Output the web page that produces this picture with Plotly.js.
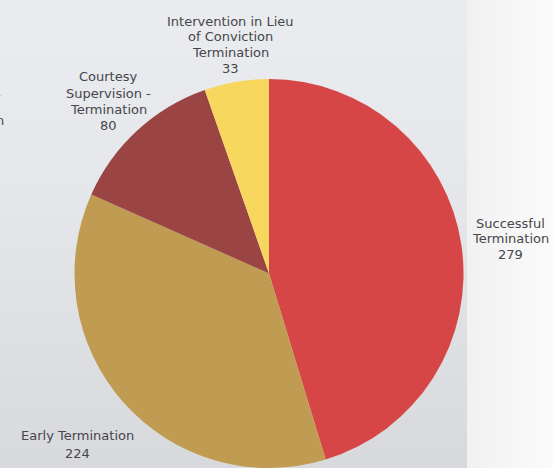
<!DOCTYPE html>
<html>
<head>
<meta charset="utf-8">
<script src="https://cdn.plot.ly/plotly-3.0.1.min.js"></script>
<style>
html, body { margin: 0; padding: 0; }
body {
  width: 553px; height: 468px; overflow: hidden;
  background:
    linear-gradient(to right, rgba(0,0,0,0) 0, rgba(0,0,0,0) 467px, #f1f1f2 467px, #fbfbfb 553px),
    linear-gradient(to bottom, #eaecef 0%, #e5e7ea 40%, #d8d9dc 100%);
}
#chart { width: 553px; height: 468px; }
</style>
</head>
<body>
<div id="chart"></div>
<script>
const categories = [
  "Successful<br>Termination",
  "Early Termination",
  "Courtesy<br>Supervision -<br>Termination",
  "Intervention in Lieu<br>of Conviction<br>Termination"
];
const values = [279, 224, 80, 33];
const colors = ["#d74646", "#c09c53", "#9a4444", "#f7d75d"];

// ---- layout helpers (positions, in pixels of the 553x468 page) ----
const M = { l: 74, r: 89, t: 79, b: 0 };
const PW = 553 - M.l - M.r, PH = 468 - M.t - M.b;
const px = x => (x - M.l) / PW;
const py = y => 1 - (y - M.t) / PH;
// label block anchors: [centre x, first line centre y, line step]
const labelPos = [
  [510, 223, 15.7],
  [77, 435, 18],
  [108, 77, 16.3],
  [230, 21, 15.7]
];
const textFont = { family: "DejaVu Sans, sans-serif", size: 13, color: "#46464b" };

const annotations = [];
categories.forEach((lab, i) => {
  const lines = lab.split("<br>").concat([String(values[i])]);
  const [cx, y0, step] = labelPos[i];
  lines.forEach((ln, j) => {
    annotations.push({
      xref: "paper", yref: "paper",
      x: px(cx), y: py(y0 + j * step),
      xanchor: "center", yanchor: "middle",
      height: 15,
      text: ln, showarrow: false, font: textFont
    });
  });
});
// neighbouring labels clipped by the left edge of the picture
annotations.push({
  xref: "paper", yref: "paper", x: px(3), y: py(95),
  xanchor: "right", yanchor: "middle", text: "Supervision -",
  height: 15, showarrow: false, font: textFont
});
annotations.push({
  xref: "paper", yref: "paper", x: px(6), y: py(121),
  xanchor: "right", yanchor: "middle", text: "Termination",
  height: 15, showarrow: false, font: textFont
});

const data = [{
  type: "pie",
  labels: categories,
  values: values,
  sort: false,
  direction: "clockwise",
  rotation: 0,
  marker: { colors: colors, line: { width: 0 } },
  textinfo: "none",
  automargin: false,
  showlegend: false,
  hoverinfo: "label+value"
}];

const layout = {
  width: 553, height: 468,
  margin: { l: M.l, r: M.r, t: M.t, b: M.b, pad: 0 },
  paper_bgcolor: "rgba(0,0,0,0)",
  plot_bgcolor: "rgba(0,0,0,0)",
  font: textFont,
  annotations: annotations
};

Plotly.newPlot("chart", data, layout, { displayModeBar: false, staticPlot: true });
</script>
</body>
</html>
